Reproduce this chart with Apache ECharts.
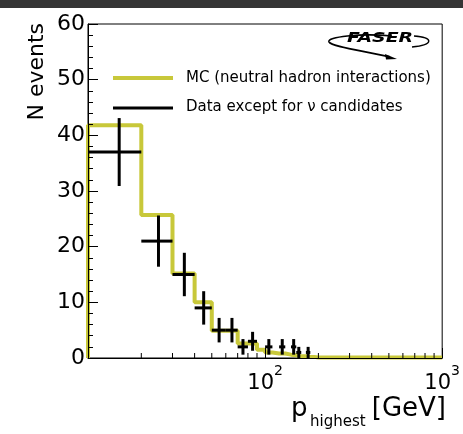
<!DOCTYPE html>
<html>
<head>
<meta charset="utf-8">
<script src="https://cdn.jsdelivr.net/npm/echarts@6/dist/echarts.min.js"></script>
<style>
  html, body { margin: 0; padding: 0; background: #fff; }
  #chart { width: 463px; height: 434px; }
</style>
</head>
<body>
<div id="chart"></div>
<script>
// MC histogram: bin edges (GeV) and heights
const mcEdges = [10, 20, 30, 40, 50, 60, 70, 80, 90, 100, 110, 120, 130, 140, 150, 160, 170, 180, 190, 200, 1000];
const mcValues = [41.8, 25.7, 15.2, 10.0, 4.9, 4.9, 2.6, 2.6, 1.5, 1.0, 0.8, 0.8, 0.6, 0.5, 0.3, 0.3, 0.2, 0.2, 0.1, 0.1];

// data points: bin edges, counts, errors
const dataEdges = [10, 20, 30, 40, 50, 60, 70, 80, 90, 100, 110, 120, 130, 140, 150, 160, 170, 180];
const dataCounts = [37, 21, 15, 9, 5, 5, 2, 3, 0, 2, 0, 2, 0, 2, 1, 0, 1];
const dataErrors = [6.1, 4.6, 3.9, 3.0, 2.2, 2.2, 1.4, 1.7, 0, 1.4, 0, 1.4, 0, 1.4, 1.0, 0, 1.0];

// x minor tick positions
const xMinorTicks = [20, 30, 40, 50, 60, 70, 80, 90, 200, 300, 400, 500, 600, 700, 800, 900];

const FONT = 'DejaVu Sans';
const MC_COLOR = '#c8c83a';

const chart = echarts.init(document.getElementById('chart'));

// step path for the MC histogram
const mcLine = [[mcEdges[0], 0]];
mcValues.forEach((v, i) => {
  mcLine.push([mcEdges[i], v]);
  mcLine.push([mcEdges[i + 1], v]);
});
mcLine.push([mcEdges[mcEdges.length - 1], 0]);

const points = [];
dataCounts.forEach((n, i) => {
  if (n > 0) points.push([dataEdges[i], dataEdges[i + 1], n, dataErrors[i]]);
});

const option = {
  animation: false,
  grid: { left: 88, top: 24, width: 358, height: 334, show: true, borderColor: '#000', borderWidth: 1 },
  xAxis: {
    type: 'log', logBase: 10, min: 10, max: 1000, z: 10,
    axisLine: { show: true, lineStyle: { color: '#000', width: 1 } },
    axisTick: { show: true, inside: true, length: 10, lineStyle: { color: '#000' } },
    axisLabel: {
      margin: 6,
      showMinLabel: false,
      formatter: v => v <= 10 ? '' : '{b|10}{s|' + Math.round(Math.log10(v)) + '}',
      rich: {
        b: { fontFamily: FONT, fontSize: 21, color: '#000', lineHeight: 30, verticalAlign: 'bottom' },
        s: { fontFamily: FONT, fontSize: 14, color: '#000', lineHeight: 30, verticalAlign: 'top' }
      }
    },
    splitLine: { show: false }
  },
  yAxis: {
    type: 'value', min: 0, max: 60, interval: 10, z: 10,
    axisLine: { show: true, lineStyle: { color: '#000', width: 1 } },
    axisTick: { show: true, inside: true, length: 10, lineStyle: { color: '#000' } },
    minorTick: { show: true, splitNumber: 5, length: 5, lineStyle: { color: '#000' } },
    axisLabel: { margin: 3, fontFamily: FONT, fontSize: 22, color: '#000' },
    splitLine: { show: false }
  },
  series: [
    {
      name: 'MC (neutral hadron interactions)',
      type: 'line',
      data: mcLine,
      showSymbol: false,
      lineStyle: { color: MC_COLOR, width: 4 },
      z: 2
    },
    {
      name: 'Data except for \u03bd candidates',
      type: 'custom',
      data: points,
      encode: { x: [0, 1], y: 2 },
      z: 3,
      renderItem: (params, api) => {
        const lo = api.value(0), hi = api.value(1), n = api.value(2), e = api.value(3);
        const xc = (lo + hi) / 2;
        const l = api.coord([lo, n]), r = api.coord([hi, n]);
        const t = api.coord([xc, n + e]), b = api.coord([xc, n - e]);
        const st = { stroke: '#000', lineWidth: 3 };
        return {
          type: 'group',
          children: [
            { type: 'line', shape: { x1: l[0], y1: l[1], x2: r[0], y2: r[1] }, style: st },
            { type: 'line', shape: { x1: t[0], y1: t[1], x2: t[0], y2: b[1] }, style: st }
          ]
        };
      }
    },
    {
      // minor ticks of the log x axis
      type: 'custom',
      data: xMinorTicks.map(v => [v, 0]),
      encode: { x: 0, y: 1 },
      z: 10,
      silent: true,
      renderItem: (params, api) => {
        const p = api.coord([api.value(0), 0]);
        return { type: 'line', shape: { x1: p[0], y1: p[1], x2: p[0], y2: p[1] - 5 }, style: { stroke: '#000', lineWidth: 1 } };
      }
    }
  ],
  graphic: [
    // dark strip at the very top of the screenshot
    { type: 'rect', shape: { x: 0, y: 0, width: 463, height: 8 }, style: { fill: '#353535' } },
    // y title
    {
      type: 'text', x: 37, y: 23, rotation: Math.PI / 2,
      style: { text: 'N events', font: '22px "DejaVu Sans"', fill: '#000', align: 'right', verticalAlign: 'middle' }
    },
    // x title
    { type: 'text', x: 291, y: 409, style: { text: 'p', font: '26px "DejaVu Sans"', fill: '#000', align: 'left', verticalAlign: 'middle' } },
    { type: 'text', x: 310, y: 422, style: { text: 'highest', font: '15px "DejaVu Sans"', fill: '#000', align: 'left', verticalAlign: 'middle' } },
    { type: 'text', x: 446, y: 409, style: { text: '[GeV]', font: '26px "DejaVu Sans"', fill: '#000', align: 'right', verticalAlign: 'middle' } },
    // legend
    { type: 'line', shape: { x1: 113, y1: 78, x2: 173, y2: 78 }, style: { stroke: MC_COLOR, lineWidth: 4 } },
    { type: 'text', x: 186, y: 78, style: { text: 'MC (neutral hadron interactions)', font: '15px "DejaVu Sans"', fill: '#000', verticalAlign: 'middle' } },
    { type: 'line', shape: { x1: 113, y1: 108, x2: 173, y2: 108 }, style: { stroke: '#000', lineWidth: 3 } },
    { type: 'text', x: 186, y: 107, style: { text: 'Data except for \u03bd candidates', font: '15px "DejaVu Sans"', fill: '#000', verticalAlign: 'middle' } },
    // FASER logo
    {
      type: 'bezierCurve',
      shape: { x1: 392, y1: 36, cpx1: 360, cpy1: 33, cpx2: 326, cpy2: 37, x2: 329, y2: 42 },
      style: { stroke: '#000', lineWidth: 1.6, fill: null }
    },
    {
      type: 'bezierCurve',
      shape: { x1: 329, y1: 42, cpx1: 332, cpy1: 47, cpx2: 365, cpy2: 51, x2: 390, y2: 57 },
      style: { stroke: '#000', lineWidth: 1.8, fill: null }
    },
    {
      type: 'polygon',
      shape: { points: [[385, 54], [397, 59], [386, 59.5]] },
      style: { fill: '#000' }
    },
    {
      type: 'bezierCurve',
      shape: { x1: 414, y1: 36, cpx1: 434, cpy1: 37, cpx2: 434, cpy2: 45, x2: 412, y2: 47 },
      style: { stroke: '#000', lineWidth: 1.4, fill: null }
    },
    {
      type: 'text', x: 347, y: 38, scaleX: 1.35,
      style: { text: 'FASER', font: 'italic bold 14px "DejaVu Sans"', fill: '#000', verticalAlign: 'middle' }
    }
  ]
};

chart.setOption(option);
</script>
</body>
</html>
